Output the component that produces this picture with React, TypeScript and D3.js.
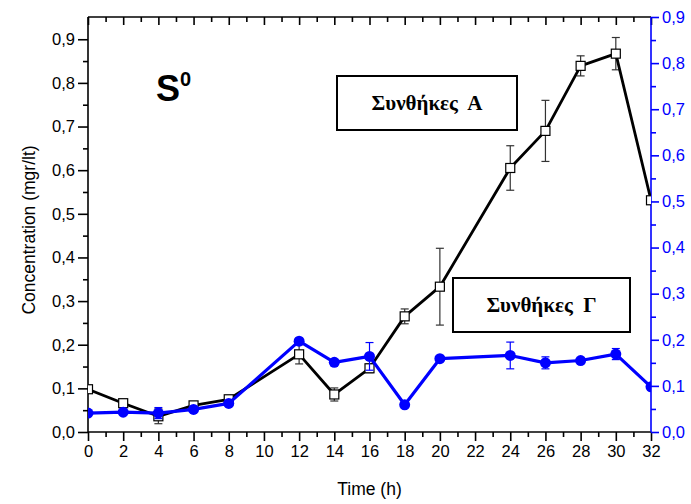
import React, { useEffect, useRef } from 'react';
import * as d3 from 'd3';

// time points (h)
const hours = [0, 2, 4, 6, 8, 12, 14, 16, 18, 20, 24, 26, 28, 30, 32];

// Συνθήκες Α (left axis)
const concA = [0.098, 0.066, 0.036, 0.061, 0.075, 0.178, 0.086, 0.146, 0.265, 0.333, 0.605, 0.69, 0.839, 0.867, 0.531];
const errA = [0, 0, 0.017, 0, 0, 0.022, 0.015, 0.01, 0.017, 0.088, 0.051, 0.07, 0.023, 0.037, 0];

// Συνθήκες Γ (right axis)
const concG = [0.041, 0.043, 0.041, 0.049, 0.062, 0.197, 0.151, 0.164, 0.059, 0.159, 0.166, 0.15, 0.155, 0.169, 0.098];
const errG = [0, 0, 0.012, 0, 0, 0.006, 0.006, 0.03, 0, 0, 0.029, 0.013, 0, 0.012, 0];

const xMajor = d3.range(0, 33, 2);
const xMinor = d3.range(1, 32, 2);
const leftMajor = [0, 0.1, 0.2, 0.3, 0.4, 0.5, 0.6, 0.7, 0.8, 0.9];
const leftMinor = [0.05, 0.15, 0.25, 0.35, 0.45, 0.55, 0.65, 0.75, 0.85];
const rightMajor = [0, 0.1, 0.2, 0.3, 0.4, 0.5, 0.6, 0.7, 0.8, 0.9];
const rightMinor = [0.05, 0.15, 0.25, 0.35, 0.45, 0.55, 0.65, 0.75, 0.85];

const W = 691;
const H = 504;
const FONT = '"Liberation Sans", Arial, sans-serif';
const SERIF = '"Liberation Serif", "Times New Roman", serif';
const BLUE = '#0000ff';

const comma = (v: number) => d3.format('.1f')(v).replace('.', ',');

const Chart = () => {
    const ref = useRef<SVGSVGElement>(null);

    useEffect(() => {
        const svg = d3.select(ref.current);
        svg.selectAll('*').remove();

        const left = 88, right = 651, top = 17, bottom = 432;

        const x = d3.scaleLinear().domain([0, 32]).range([left, right]);
        const yL = d3.scaleLinear().domain([0, 0.951]).range([bottom, top]);
        const yR = d3.scaleLinear().domain([0, 0.9]).range([bottom, top]);

        svg.append('defs').append('clipPath').attr('id', 'plotclip')
            .append('rect')
            .attr('x', left).attr('y', top)
            .attr('width', right - left).attr('height', bottom - top);

        const styleAxis = (g: any, color: string) => {
            g.select('.domain').remove();
            g.selectAll('line').attr('stroke', color).attr('stroke-width', 1.6);
            g.selectAll('text')
                .attr('fill', color)
                .style('font-family', FONT)
                .style('font-size', '16.5px');
        };

        // bottom axis
        svg.append('g').attr('transform', `translate(0,${bottom})`)
            .call(d3.axisBottom(x).tickValues(xMajor).tickSize(9).tickPadding(4).tickFormat(d3.format('d') as any))
            .call((g: any) => styleAxis(g, '#000'));
        svg.append('g').attr('transform', `translate(0,${bottom})`)
            .call(d3.axisBottom(x).tickValues(xMinor).tickSize(5).tickFormat(() => ''))
            .call((g: any) => styleAxis(g, '#000'));

        // top axis (ticks inward)
        svg.append('g').attr('transform', `translate(0,${top})`)
            .call(d3.axisBottom(x).tickValues(xMajor).tickSize(8).tickFormat(() => ''))
            .call((g: any) => styleAxis(g, '#000'));
        svg.append('g').attr('transform', `translate(0,${top})`)
            .call(d3.axisBottom(x).tickValues(xMinor).tickSize(5).tickFormat(() => ''))
            .call((g: any) => styleAxis(g, '#000'));

        // left axis
        svg.append('g').attr('transform', `translate(${left},0)`)
            .call(d3.axisLeft(yL).tickValues(leftMajor).tickSize(10).tickPadding(3).tickFormat(comma as any))
            .call((g: any) => styleAxis(g, '#000'));
        svg.append('g').attr('transform', `translate(${left},0)`)
            .call(d3.axisLeft(yL).tickValues(leftMinor).tickSize(5).tickFormat(() => ''))
            .call((g: any) => styleAxis(g, '#000'));

        // right axis (blue)
        svg.append('g').attr('transform', `translate(${right},0)`)
            .call(d3.axisRight(yR).tickValues(rightMajor).tickSize(8).tickPadding(3).tickFormat(comma as any))
            .call((g: any) => styleAxis(g, BLUE));
        svg.append('g').attr('transform', `translate(${right},0)`)
            .call(d3.axisRight(yR).tickValues(rightMinor).tickSize(5).tickFormat(() => ''))
            .call((g: any) => styleAxis(g, BLUE));

        // frame
        svg.append('line').attr('x1', left).attr('x2', right).attr('y1', top).attr('y2', top)
            .attr('stroke', '#000').attr('stroke-width', 1.6);
        svg.append('line').attr('x1', left).attr('x2', right).attr('y1', bottom).attr('y2', bottom)
            .attr('stroke', '#000').attr('stroke-width', 1.6);
        svg.append('line').attr('x1', left).attr('x2', left).attr('y1', top).attr('y2', bottom)
            .attr('stroke', '#000').attr('stroke-width', 1.6);
        svg.append('line').attr('x1', right).attr('x2', right).attr('y1', top).attr('y2', bottom)
            .attr('stroke', BLUE).attr('stroke-width', 1.6);

        const plot = svg.append('g').attr('clip-path', 'url(#plotclip)');

        const drawSeries = (vals: number[], errs: number[], y: any, color: string, errColor: string, lineW: number, marker: 'square' | 'circle') => {
            const pts = hours.map((h, i) => ({ h, v: vals[i], e: errs[i] }));
            const eb = plot.append('g');
            pts.filter(p => p.e > 0).forEach(p => {
                const cx = x(p.h);
                eb.append('line').attr('x1', cx).attr('x2', cx)
                    .attr('y1', y(p.v - p.e)).attr('y2', y(p.v + p.e))
                    .attr('stroke', errColor).attr('stroke-width', 1.2);
                [p.v - p.e, p.v + p.e].forEach(val => {
                    eb.append('line').attr('x1', cx - 4).attr('x2', cx + 4)
                        .attr('y1', y(val)).attr('y2', y(val))
                        .attr('stroke', errColor).attr('stroke-width', 1.2);
                });
            });

            const line = d3.line<any>().x(p => x(p.h)).y(p => y(p.v));
            plot.append('path').datum(pts).attr('d', line)
                .attr('fill', 'none').attr('stroke', color).attr('stroke-width', lineW)
                .attr('stroke-linejoin', 'round');

            if (marker === 'square') {
                plot.append('g').selectAll('rect').data(pts).enter().append('rect')
                    .attr('x', p => x(p.h) - 4.5).attr('y', p => y(p.v) - 4.5)
                    .attr('width', 9).attr('height', 9)
                    .attr('fill', '#fff').attr('stroke', '#000').attr('stroke-width', 1.2);
            } else {
                plot.append('g').selectAll('circle').data(pts).enter().append('circle')
                    .attr('cx', p => x(p.h)).attr('cy', p => y(p.v)).attr('r', 5.5)
                    .attr('fill', color);
            }
        };

        drawSeries(concA, errA, yL, '#000', '#333', 2.8, 'square');
        drawSeries(concG, errG, yR, BLUE, BLUE, 3.2, 'circle');

        // axis titles
        svg.append('text')
            .attr('x', (left + right) / 2).attr('y', 495)
            .attr('text-anchor', 'middle')
            .style('font-family', FONT).style('font-size', '17.5px')
            .text('Time (h)');
        svg.append('text')
            .attr('transform', `translate(35,230) rotate(-90)`)
            .attr('text-anchor', 'middle')
            .style('font-family', FONT).style('font-size', '17.5px')
            .text('Concentration (mgr/lt)');

        // S0 label
        const s0 = svg.append('text')
            .attr('x', 156).attr('y', 101)
            .style('font-family', FONT).style('font-weight', 'bold').style('font-size', '36px');
        s0.append('tspan').text('S');
        s0.append('tspan').attr('dy', -15).style('font-size', '20px').text('0');

        // condition boxes
        const boxes = [
            { x0: 337, y0: 76, x1: 517, y1: 130, label: 'Συνθήκες  Α' },
            { x0: 453, y0: 278, x1: 630, y1: 332, label: 'Συνθήκες  Γ' },
        ];
        boxes.forEach(b => {
            svg.append('rect')
                .attr('x', b.x0).attr('y', b.y0)
                .attr('width', b.x1 - b.x0).attr('height', b.y1 - b.y0)
                .attr('fill', '#fff').attr('stroke', '#000').attr('stroke-width', 2);
            svg.append('text')
                .attr('x', (b.x0 + b.x1) / 2).attr('y', (b.y0 + b.y1) / 2 + 7)
                .attr('text-anchor', 'middle')
                .style('font-family', SERIF).style('font-weight', 'bold').style('font-size', '21px')
                .style('white-space', 'pre')
                .text(b.label);
        });
    }, []);

    return <svg ref={ref} width={W} height={H} style={{ position: 'absolute', left: 0, top: 0, background: '#fff' }} />;
};

export default function App() {
    return <Chart />;
}
